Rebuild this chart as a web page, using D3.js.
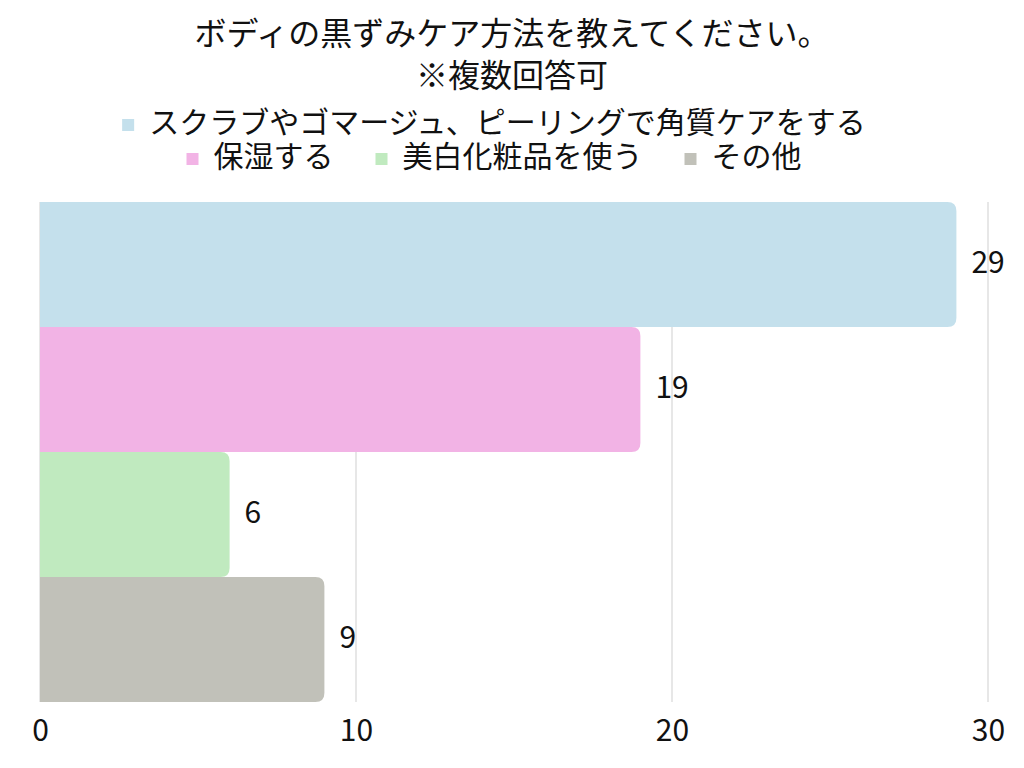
<!DOCTYPE html>
<html>
<head>
<meta charset="utf-8">
<script src="https://cdn.jsdelivr.net/npm/d3@7"></script>
<style>
  body { margin: 0; background: #fff; }
  text { font-family: "Noto Sans CJK JP", "Noto Sans", sans-serif; fill: #111; }
</style>
</head>
<body>
<div id="chart"></div>
<script>
const titleLines = ["ボディの黒ずみケア方法を教えてください。", "※複数回答可"];
const categories = ["スクラブやゴマージュ、ピーリングで角質ケアをする", "保湿する", "美白化粧品を使う", "その他"];
const values = [29, 19, 6, 9];
const colors = ["#c4e0ec", "#f2b3e5", "#c0eabf", "#c1c1b9"];
const xTicks = [0, 10, 20, 30];

const width = 1024, height = 768;
const margin = {top: 202, right: 36, bottom: 66, left: 40};
const legendCenter = 494;

const svg = d3.select("#chart").append("svg")
    .attr("width", width)
    .attr("height", height);

// title
svg.selectAll("text.title")
    .data(titleLines)
    .enter()
    .append("text")
    .attr("class", "title")
    .attr("x", width / 2)
    .attr("y", (d, i) => 36 + i * 42)
    .attr("text-anchor", "middle")
    .attr("dominant-baseline", "middle")
    .style("font-size", "32px")
    .text(d => d);

// legend: first item on its own row, rest on second row
const legendRows = [[0], [1, 2, 3]];
legendRows.forEach((row, r) => {
    const g = svg.append("g");
    let x = 0;
    row.forEach(i => {
        const item = g.append("g").attr("transform", `translate(${x},0)`);
        item.append("rect")
            .attr("x", 0).attr("y", -6)
            .attr("width", 12).attr("height", 12)
            .attr("fill", colors[i]);
        const t = item.append("text")
            .attr("x", 27)
            .attr("dominant-baseline", "middle")
            .style("font-size", "30px")
            .text(categories[i]);
        x += 27 + t.node().getComputedTextLength() + 42;
    });
    x -= 42;
    g.attr("transform", `translate(${legendCenter - x / 2},${125 + r * 34})`);
});

const x = d3.scaleLinear()
    .domain([0, 30])
    .range([margin.left, width - margin.right]);

const y = d3.scaleBand()
    .domain(categories)
    .range([margin.top, height - margin.bottom])
    .padding(0);

// grid
svg.append("g")
    .selectAll("line")
    .data(xTicks)
    .enter()
    .append("line")
    .attr("x1", d => x(d)).attr("x2", d => x(d))
    .attr("y1", margin.top).attr("y2", height - margin.bottom)
    .attr("stroke", "#cfcfcf")
    .attr("stroke-width", 1);

// bars with rounded right end
const r = 9;
function barPath(v, cat) {
    const x0 = x(0), x1 = x(v), y0 = y(cat), y1 = y(cat) + y.bandwidth();
    return `M${x0},${y0}H${x1 - r}Q${x1},${y0} ${x1},${y0 + r}V${y1 - r}Q${x1},${y1} ${x1 - r},${y1}H${x0}Z`;
}

svg.append("g")
    .selectAll("path")
    .data(values)
    .enter()
    .append("path")
    .attr("d", (d, i) => barPath(d, categories[i]))
    .attr("fill", (d, i) => colors[i]);

// value labels
svg.append("g")
    .selectAll("text")
    .data(values)
    .enter()
    .append("text")
    .attr("x", d => x(d) + 15)
    .attr("y", (d, i) => y(categories[i]) + y.bandwidth() / 2)
    .attr("dominant-baseline", "middle")
    .style("font-size", "30px")
    .text(d => d);

// x axis labels
const axis = svg.append("g")
    .attr("transform", `translate(0,${height - margin.bottom})`)
    .call(d3.axisBottom(x).tickValues(xTicks).tickSize(0).tickPadding(18));
axis.select(".domain").remove();
axis.selectAll("text")
    .style("font-size", "30px")
    .style("font-family", "'Noto Sans CJK JP', 'Noto Sans', sans-serif")
    .attr("fill", "#111");
</script>
</body>
</html>
